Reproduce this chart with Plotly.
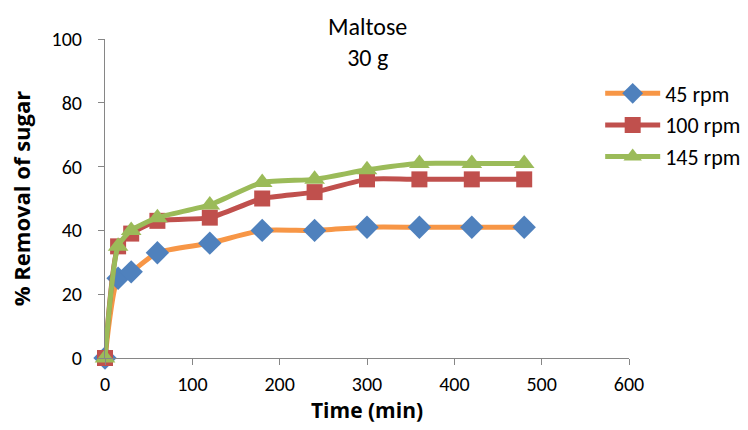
import plotly.graph_objects as go

# Sampling times (min) and sugar removal (%) at three agitation speeds
time_min = [0, 15, 30, 60, 120, 180, 240, 300, 360, 420, 480]
removal_45 = [0, 25, 27, 33, 36, 40, 40, 41, 41, 41, 41]
removal_100 = [0, 35, 39, 43, 44, 50, 52, 56, 56, 56, 56]
removal_145 = [0, 35, 40, 44, 48, 55, 56, 59, 61, 61, 61]

series = [
    ("45 rpm", removal_45, "#F79646", "#4F81BD", "diamond", 18),
    ("100 rpm", removal_100, "#C0504D", "#C0504D", "square", 16),
    ("145 rpm", removal_145, "#9BBB59", "#9BBB59", "triangle-up", 18),
]

font_family = "Carlito, Calibri, Lato, 'Open Sans', sans-serif"
title_family = "'Open Sans', Lato, sans-serif"

fig = go.Figure()
for name, vals, line_col, mk_col, symbol, size in series:
    fig.add_trace(go.Scatter(
        x=time_min, y=vals, name=name, mode="lines+markers",
        line=dict(color=line_col, width=5, shape="spline", smoothing=0.6),
        marker=dict(symbol=symbol, size=size, color=mk_col, line=dict(width=0)),
        cliponaxis=False,
    ))

fig.update_layout(
    width=748, height=430,
    margin=dict(l=105, r=119, t=39, b=72, autoexpand=False),
    paper_bgcolor="white", plot_bgcolor="white",
    font=dict(family=font_family, size=20, color="black"),
    showlegend=True,
    legend=dict(x=0.945, xanchor="left", y=0.895, yanchor="top",
                font=dict(size=22), tracegroupgap=0, itemwidth=55,
                bgcolor="rgba(0,0,0,0)"),
    annotations=[dict(text="Maltose<br>30 g", x=0.5, xref="paper", y=0.99,
                      yref="paper", yanchor="middle", showarrow=False,
                      font=dict(size=24))],
)
fig.update_xaxes(
    range=[0, 600], tickvals=[0, 100, 200, 300, 400, 500, 600],
    showgrid=False, zeroline=False, showline=True, linecolor="#868686",
    linewidth=1, ticks="outside", tickcolor="#868686", ticklen=6,
    ticklabelstandoff=2,
    title=dict(text="<b>Time (min)</b>",
               font=dict(size=21, family=title_family), standoff=4),
)
fig.update_yaxes(
    range=[0, 100], tickvals=[0, 20, 40, 60, 80, 100],
    showgrid=False, zeroline=False, showline=True, linecolor="#868686",
    linewidth=1, ticks="outside", tickcolor="#868686", ticklen=6,
    ticklabelstandoff=12,
    title=dict(text="<b>% Removal of sugar</b>",
               font=dict(size=22, family=title_family), standoff=14),
)

fig.write_html("out.html")
